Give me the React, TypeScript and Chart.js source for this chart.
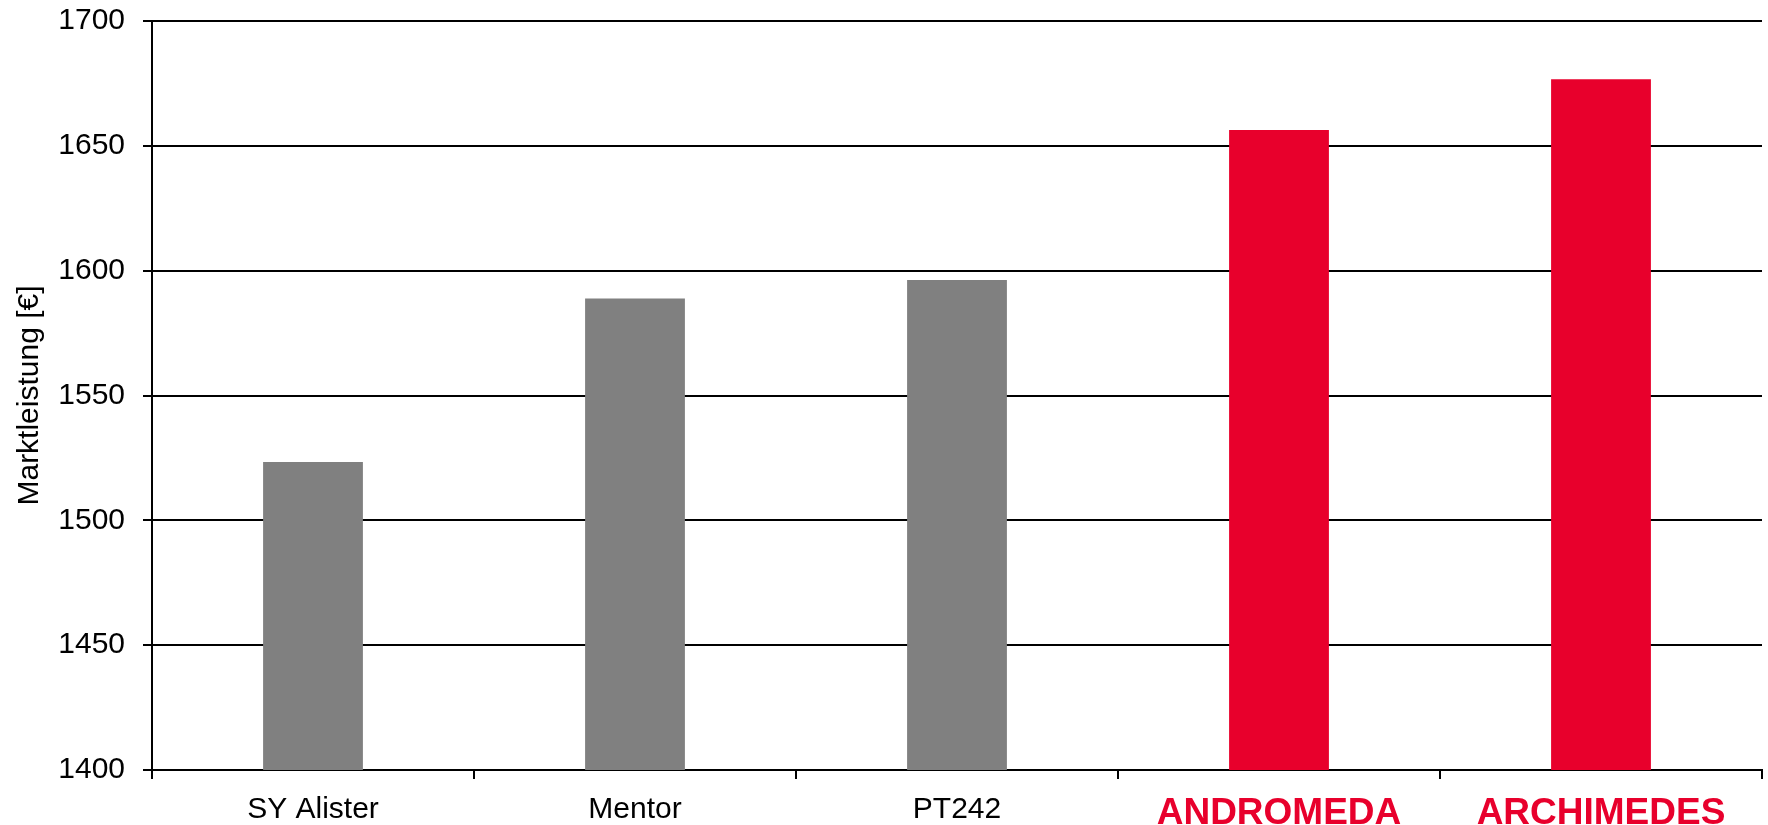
import React, { useEffect, useRef } from "react";
import { Chart, registerables } from "chart.js";

Chart.register(...registerables);

const categories = ["SY Alister", "Mentor", "PT242", "ANDROMEDA", "ARCHIMEDES"];
const values = [1523.4, 1588.9, 1596.3, 1656.3, 1676.7];
const barColors = ["#808080", "#808080", "#808080", "#E8002C", "#E8002C"];
const labelColors = ["#000000", "#000000", "#000000", "#E8002C", "#E8002C"];
const labelBold = [false, false, false, true, true];
const yTitle = "Marktleistung [€]";
const yMin = 1400;
const yMax = 1700;
const yStep = 50;

const FAMILY = "Liberation Sans, Arial, sans-serif";

export default function App() {
  const ref = useRef<HTMLCanvasElement | null>(null);

  useEffect(() => {
    if (!ref.current) return;
    const chart = new Chart(ref.current, {
      type: "bar",
      data: {
        labels: categories,
        datasets: [
          {
            data: values,
            backgroundColor: barColors,
            borderWidth: 0,
            barPercentage: 0.31,
            categoryPercentage: 1,
          },
        ],
      },
      options: {
        animation: false,
        responsive: false,
        maintainAspectRatio: false,
        layout: { padding: { top: 21, right: 6, left: 0, bottom: 0 } },
        plugins: { legend: { display: false }, tooltip: { enabled: false } },
        scales: {
          x: {
            offset: true,
            border: { display: true, color: "#000", width: 2 },
            grid: {
              offset: true,
              drawOnChartArea: false,
              drawTicks: true,
              tickLength: 9,
              color: "#000",
              lineWidth: 2,
            },
            ticks: {
              padding: 13,
              color: (ctx: any) => labelColors[ctx.index] ?? "#000",
              font: (ctx: any) =>
                labelBold[ctx.index]
                  ? { family: FAMILY, size: 37, weight: "bold" }
                  : { family: FAMILY, size: 30 },
              maxRotation: 0,
              autoSkip: false,
            },
            afterFit: (scale: any) => {
              scale.height = 55;
            },
          },
          y: {
            min: yMin,
            max: yMax,
            border: { display: true, color: "#000", width: 2 },
            grid: {
              color: "#000",
              lineWidth: 2,
              tickLength: 9,
              drawTicks: true,
            },
            ticks: {
              stepSize: yStep,
              padding: 18,
              color: "#000",
              font: { family: FAMILY, size: 30 },
              callback: (v: any) => String(v),
            },
            title: {
              display: true,
              text: yTitle,
              color: "#000",
              font: { family: FAMILY, size: 30 },
              padding: { top: 12, bottom: 0 },
            },
            afterFit: (scale: any) => {
              scale.width = 152;
              scale.paddingTop = 0;
              scale.paddingBottom = 0;
            },
          },
        },
      },
    });
    return () => chart.destroy();
  }, []);

  return (
    <div style={{ position: "fixed", left: 0, top: 0, width: 1768, height: 825, background: "#fff" }}>
      <canvas ref={ref} width={1768} height={825} style={{ display: "block" }} />
    </div>
  );
}
